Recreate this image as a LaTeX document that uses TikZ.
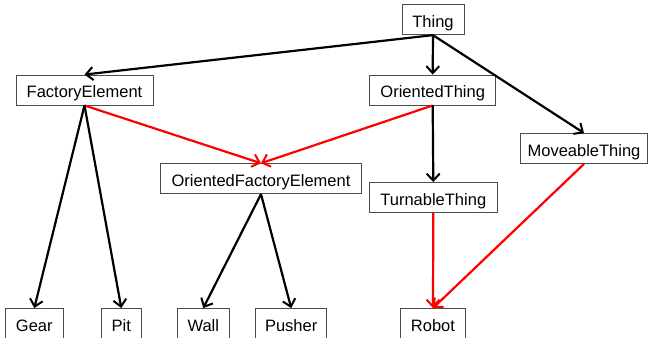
\documentclass[tikz,border=0pt]{standalone}
\usepackage{fontspec}
\setmainfont{Liberation Sans}
\usetikzlibrary{arrows.meta}
\begin{document}
\begin{tikzpicture}[x=1pt,y=-1pt,
  cls/.style={draw=black!70, line width=0.9pt, fill=white, inner sep=0pt,
    minimum height=30pt, text height=15.8pt, text depth=0.2pt,
    font=\fontsize{16.5}{18}\selectfont},
  isa/.style={line width=2.2pt, -{Straight Barb[length=7pt,width=13pt,line width=2pt]}},
  blk/.style={isa, black},
  rd/.style={isa, red}]
\useasboundingbox (0,0) rectangle (649,338);
\clip (-5,-5) rectangle (654,337.4);
\node[cls, minimum width=62pt]  (thing) at (433,19.7) {Thing};
\node[cls, minimum width=137pt] (fe)    at (84.5,90) {FactoryElement};
\node[cls, minimum width=126pt] (ot)    at (432.7,90) {OrientedThing};
\node[cls, minimum width=126.5pt] (mt)  at (584,148.5) {MoveableThing};
\node[cls, minimum width=201.5pt] (ofe) at (261,178.7) {OrientedFactoryElement};
\node[cls, minimum width=128pt] (tt)    at (433.3,197.5) {TurnableThing};
\node[cls, minimum width=58pt]  (gear)  at (34.3,323.5) {Gear};
\node[cls, minimum width=39.5pt] (pit)  at (121.3,323.5) {Pit};
\node[cls, minimum width=52.5pt] (wall) at (203.3,323.5) {Wall};
\node[cls, minimum width=71pt]  (push)  at (291.2,323.5) {Pusher};
\node[cls, minimum width=64.5pt] (robot) at (433,323.5) {Robot};
\draw[blk] (thing.south) -- (fe.north);
\draw[blk] (thing.south) -- (ot.north);
\draw[blk] (thing.south) -- (mt.north);
\draw[rd]  (fe.south) -- (ofe.north);
\draw[rd]  (ot.south) -- (ofe.north);
\draw[blk] (ot.south) -- (tt.north);
\draw[blk] (fe.south) -- (gear.north);
\draw[blk] (fe.south) -- (pit.north);
\draw[blk] (ofe.south) -- (wall.north);
\draw[blk] (ofe.south) -- (push.north);
\draw[rd]  (tt.south) -- (robot.north);
\draw[rd]  (mt.south) -- (robot.north);
\end{tikzpicture}
\end{document}
